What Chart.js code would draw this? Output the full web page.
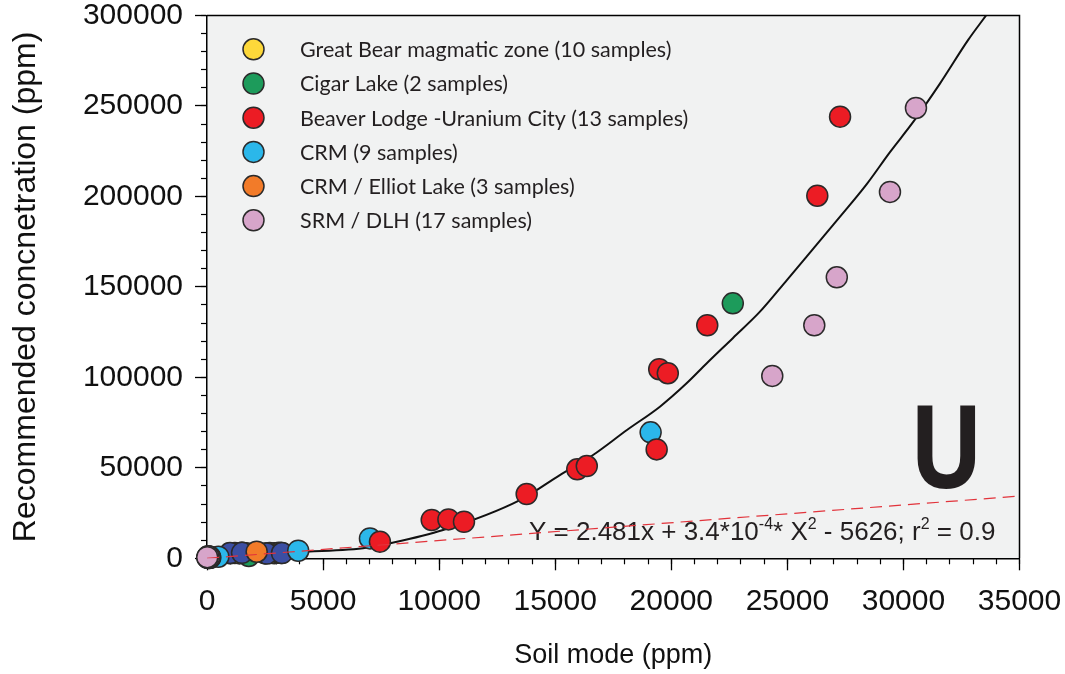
<!DOCTYPE html>
<html>
<head>
<meta charset="utf-8">
<script src="https://cdn.jsdelivr.net/npm/chart.js@4.4.1/dist/chart.umd.min.js"></script>
<style>
  html, body { margin: 0; padding: 0; background: #fff; }
  #wrap { width: 1065px; height: 674px; }
</style>
</head>
<body>
<div id="wrap"><canvas id="chart"></canvas></div>
<script>
// Values (soil mode ppm vs recommended concentration ppm)
const greatBearX = [1000, 1200, 1500, 1700, 2500, 2700, 2900, 3100, 3200, 1400]
const greatBearY = [2800, 2900, 3000, 2800, 2700, 2900, 2800, 3000, 2900, 2700]

const cigarLakeX = [1800, 22650]
const cigarLakeY = [1300, 140900]

const beaverLodgeX = [7450, 9680, 10400, 11070, 13770, 15950, 16360, 19370, 19480, 19850, 21550, 26290, 27270]
const beaverLodgeY = [9200, 21200, 21500, 20200, 35500, 49200, 51000, 60200, 104500, 102300, 128800, 200400, 244100]

const crmX = [490, 3930, 7020, 19110, 60, 100, 140, 120, 80]
const crmY = [880, 4200, 11000, 69600, 300, 400, 300, 500, 200]

const elliotLakeX = [2140, 100, 130]
const elliotLakeY = [3650, 500, 700]

const srmX = [56, 24350, 26160, 27130, 29420, 30540, 20, 40, 60, 80, 100, 30, 70, 90, 110, 50, 10]
const srmY = [880, 100800, 128800, 155300, 202500, 248900, 300, 500, 700, 400, 600, 900, 1000, 200, 800, 1100, 600]

// dark blue markers in the low cluster (no legend entry in the figure)
const otherX = [990, 1510, 2580, 3230]
const otherY = [2900, 3000, 2600, 2900]

// hand-drawn polynomial fit and the red dashed reference line
const fitX = [0, 4000, 6720, 7880, 10170, 13480, 15200, 16630, 18090, 19510, 20660, 21530, 22660, 23820, 24980, 25830, 27270, 28420, 29420, 30430, 31580, 32790, 33560]
const fitY = [2500, 3600, 5500, 8300, 15650, 32200, 46000, 57100, 70900, 83800, 96700, 107800, 121800, 136300, 153800, 166700, 188800, 206800, 224500, 241300, 262500, 286500, 300000]

const refX = [0, 35000]
const refY = [0, 34400]

const xTickStep = 5000
const yTickStep = 50000

const INK = '#231f20'

const toPoints = (xs, ys) => xs.map((x, i) => ({ x, y: ys[i] }))

function markerSet(label, xs, ys, color, legendOrder) {
  return {
    label,
    data: toPoints(xs, ys),
    backgroundColor: color,
    borderColor: '#2b2a2a',
    borderWidth: 1.5,
    pointRadius: 10.5,
    pointHoverRadius: 10.5,
    clip: false,
    legendOrder,
  }
}

// keep the plot box where the figure has it, labels may overflow
const fixWidth = w => s => {
  s.width = w
  s.paddingTop = 0
  s.paddingBottom = 0
}
const fixHeight = h => s => {
  s.height = h
  s.paddingLeft = 0
  s.paddingRight = 0
}

// chart area fill + top/right frame, drawn under the marks
const frameBackground = {
  id: 'frameBackground',
  beforeDraw(chart) {
    const { ctx, chartArea: a } = chart
    ctx.save()
    ctx.fillStyle = '#f1f2f2'
    ctx.fillRect(a.left, a.top, a.right - a.left, a.bottom - a.top)
    ctx.restore()
  },
  beforeDatasetsDraw(chart) {
    const { ctx, chartArea: a } = chart
    ctx.save()
    ctx.strokeStyle = '#000'
    ctx.lineWidth = 1.5
    ctx.beginPath()
    ctx.moveTo(a.left, a.top)
    ctx.lineTo(a.right, a.top)
    ctx.lineTo(a.right, a.bottom)
    ctx.stroke()
    ctx.restore()
  },
}

// equation and element symbol, placed in data coordinates
const annotations = {
  id: 'annotations',
  beforeDatasetsDraw(chart) {
    const { ctx, scales } = chart
    const x0 = scales.x.getPixelForValue(13870)
    const y0 = scales.y.getPixelForValue(10100)

    const parts = [
      ['Y = 2.481x + 3.4*10', false],
      ['-4', true],
      ['* X', false],
      ['2', true],
      [' - 5626; r', false],
      ['2', true],
      [' = 0.9', false],
    ]
    ctx.save()
    ctx.fillStyle = INK
    ctx.textBaseline = 'alphabetic'
    let cx = x0
    parts.forEach(([text, sup]) => {
      ctx.font = sup ? '16px "Liberation Sans", Arial, sans-serif' : '26px "Liberation Sans", Arial, sans-serif'
      ctx.fillText(text, cx, sup ? y0 - 11 : y0)
      cx += ctx.measureText(text).width
    })

    // big element symbol, slightly condensed like the original face
    ctx.translate(scales.x.getPixelForValue(30250), scales.y.getPixelForValue(38900))
    ctx.scale(0.86, 1)
    ctx.font = 'bold 114px "Open Sans", sans-serif'
    ctx.fillText('U', 0, 0)
    ctx.restore()
  },
}

// legend drawn inside the plot, top left
const insideLegend = {
  id: 'insideLegend',
  afterDraw(chart) {
    const { ctx, chartArea: a } = chart
    const items = chart.data.datasets
      .filter(ds => ds.legendOrder !== undefined)
      .sort((p, q) => p.legendOrder - q.legendOrder)
    ctx.save()
    ctx.font = '21.5px Lato, sans-serif'
    ctx.textBaseline = 'middle'
    items.forEach((ds, i) => {
      const y = a.top + 33.8 + i * 34.2
      ctx.beginPath()
      ctx.arc(a.left + 46.5, y, 10.5, 0, Math.PI * 2)
      ctx.fillStyle = ds.backgroundColor
      ctx.fill()
      ctx.lineWidth = 1.5
      ctx.strokeStyle = '#2b2a2a'
      ctx.stroke()
      ctx.fillStyle = INK
      ctx.fillText(ds.label, a.left + 93, y + 1)
    })
    ctx.restore()
  },
}

const tickFont = { family: '"Liberation Sans", Arial, sans-serif', size: 30 }

new Chart(document.getElementById('chart'), {
  type: 'scatter',
  data: {
    datasets: [
      {
        label: 'reference',
        data: toPoints(refX, refY),
        showLine: true,
        borderColor: '#e2333b',
        borderWidth: 1.2,
        borderDash: [12, 7],
        pointRadius: 0,
      },
      markerSet('SRM / DLH (17 samples)', srmX, srmY, '#d7a5ca', 5),
      markerSet('Beaver Lodge -Uranium City (13 samples)', beaverLodgeX, beaverLodgeY, '#ec1c24', 2),
      markerSet('CRM / Elliot Lake (3 samples)', elliotLakeX, elliotLakeY, '#f27b29', 4),
      markerSet('CRM (9 samples)', crmX, crmY, '#2bb7ea', 3),
      markerSet('other', otherX, otherY, '#3b4ea3'),
      markerSet('Cigar Lake (2 samples)', cigarLakeX, cigarLakeY, '#1d9b5b', 1),
      markerSet('Great Bear magmatic zone (10 samples)', greatBearX, greatBearY, '#fdd83a', 0),
      {
        label: 'fit',
        data: toPoints(fitX, fitY),
        showLine: true,
        borderColor: '#111',
        borderWidth: 2,
        cubicInterpolationMode: 'monotone',
        pointRadius: 0,
      },
    ],
  },
  options: {
    responsive: true,
    maintainAspectRatio: false,
    animation: false,
    layout: { padding: { left: 0, right: 45.5, top: 15.5, bottom: 0 } },
    plugins: {
      legend: { display: false },
      tooltip: { enabled: false },
    },
    scales: {
      x: {
        type: 'linear',
        position: 'bottom',
        weight: 1,
        min: 0,
        max: 35000,
        afterFit: fixHeight(115.7),
        border: { display: true, color: '#000', width: 1.5 },
        grid: { drawOnChartArea: false, drawTicks: true, tickLength: 12, tickColor: '#000', tickWidth: 1.3 },
        ticks: {
          stepSize: xTickStep,
          autoSkip: false,
          maxRotation: 0,
          padding: 13,
          color: '#111',
          font: tickFont,
          callback: v => String(v),
        },
        title: {
          display: true,
          text: 'Soil mode (ppm)',
          color: '#111',
          font: { family: '"Liberation Sans", Arial, sans-serif', size: 27 },
          padding: { top: 0, bottom: 2 },
        },
      },
      xMinor: {
        type: 'linear',
        position: 'bottom',
        weight: 0,
        min: 0,
        max: 35000,
        afterFit: fixHeight(0),
        border: { display: false },
        grid: { drawOnChartArea: false, drawTicks: true, tickLength: 6, tickColor: '#000', tickWidth: 1.2 },
        ticks: { stepSize: 1000, display: false },
      },
      y: {
        type: 'linear',
        position: 'left',
        weight: 1,
        min: 0,
        max: 300000,
        afterFit: fixWidth(207),
        border: { display: true, color: '#000', width: 1.5 },
        grid: { drawOnChartArea: false, drawTicks: true, tickLength: 12, tickColor: '#000', tickWidth: 1.3 },
        ticks: {
          stepSize: yTickStep,
          padding: 12,
          color: '#111',
          font: tickFont,
          callback: v => String(v),
        },
        title: {
          display: true,
          text: 'Recommended concnetration (ppm)',
          color: '#111',
          font: { family: '"Liberation Sans", Arial, sans-serif', size: 32 },
          padding: { top: 7, bottom: 0 },
        },
      },
      yMinor: {
        type: 'linear',
        position: 'left',
        weight: 0,
        min: 0,
        max: 300000,
        afterFit: fixWidth(0),
        border: { display: false },
        grid: { drawOnChartArea: false, drawTicks: true, tickLength: 6, tickColor: '#000', tickWidth: 1.2 },
        ticks: { stepSize: 10000, display: false },
      },
    },
  },
  plugins: [frameBackground, annotations, insideLegend],
})
</script>
</body>
</html>
